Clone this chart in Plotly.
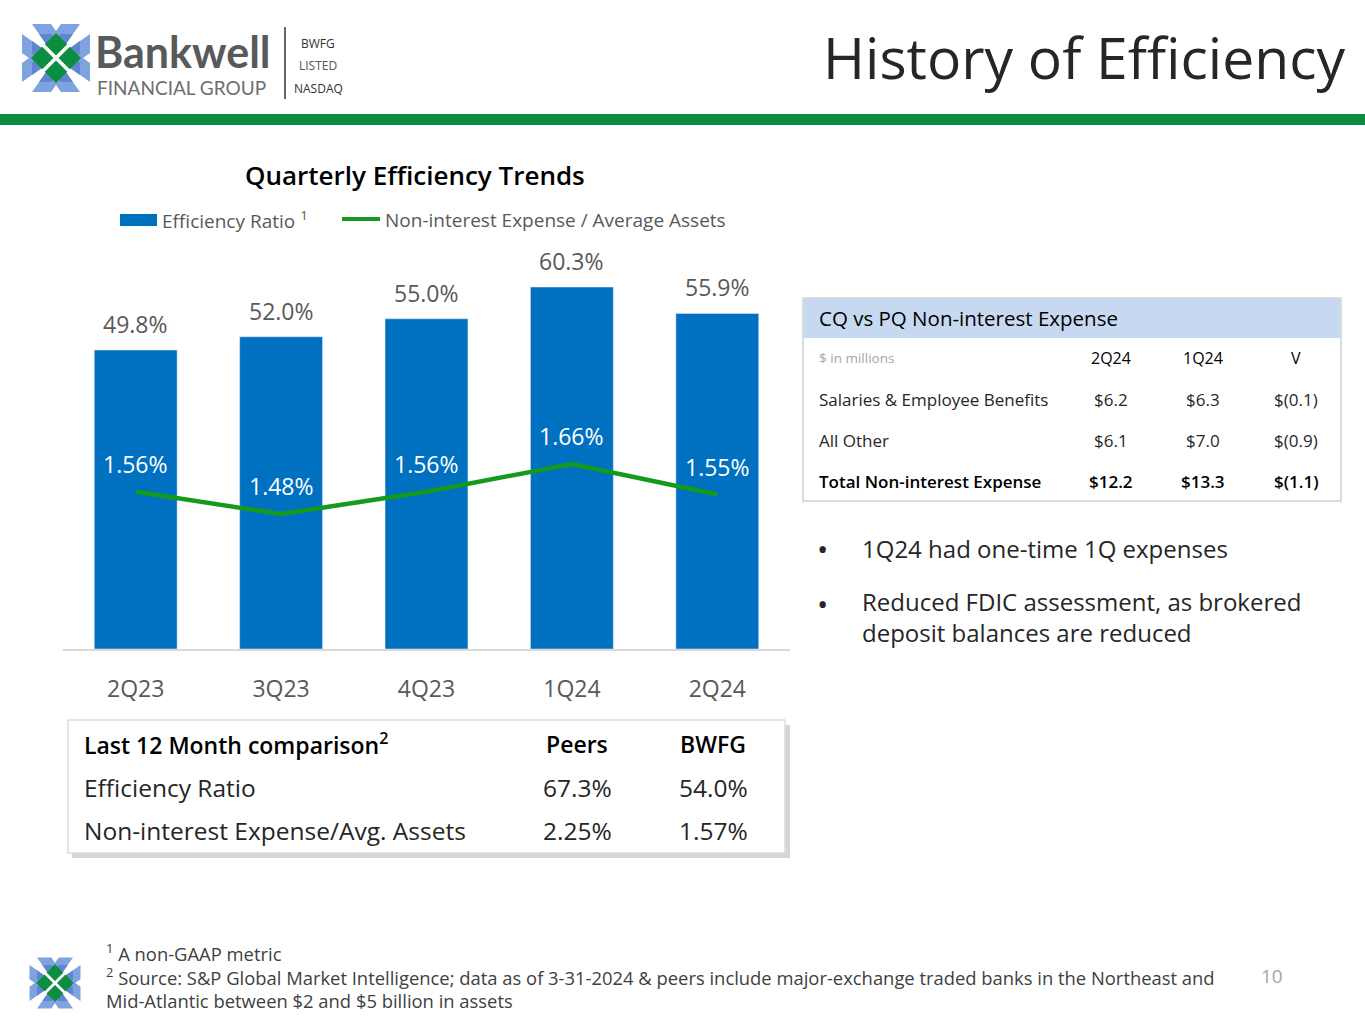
import plotly.graph_objects as go

# ---------------- data ----------------
quarters = ["2Q23", "3Q23", "4Q23", "1Q24", "2Q24"]
efficiency_ratio = [49.8, 52.0, 55.0, 60.3, 55.9]
nie_avg_assets = [1.56, 1.48, 1.56, 1.66, 1.55]

exp_cols = ["2Q24", "1Q24", "V"]
exp_rows = ["Salaries & Employee Benefits", "All Other", "Total Non-interest Expense"]
exp_vals = [["$6.2", "$6.3", "$(0.1)"],
            ["$6.1", "$7.0", "$(0.9)"],
            ["$12.2", "$13.3", "$(1.1)"]]

ltm_cols = ["Peers", "BWFG"]
ltm_rows = ["Efficiency Ratio", "Non-interest Expense/Avg. Assets"]
ltm_vals = [["67.3%", "54.0%"], ["2.25%", "1.57%"]]

bullets = ["1Q24 had one-time 1Q expenses",
           "Reduced FDIC assessment, as brokered<br>deposit balances are reduced"]

# ---------------- helpers ----------------
W, H = 1365, 1024
FONT = "Open Sans"
BLUE = "#0070C0"
GREEN = "#169A1E"
GRAY = "#595959"
DARK = "#262626"


def X(px):
    return px / W


def Y(py):
    return 1 - py / H


shapes = []
ann = []


def text(x, y, s, size, color=DARK, xanchor="left", weight=400, yanchor="middle", family=FONT):
    ann.append(dict(x=X(x), y=Y(y), xref="paper", yref="paper", text=s,
                    showarrow=False, xanchor=xanchor, yanchor=yanchor,
                    font=dict(family=family, size=size, color=color, weight=weight)))


def rect(x0, y0, x1, y1, fill, line=None, lw=0):
    shapes.append(dict(type="rect", xref="paper", yref="paper",
                       x0=X(x0), x1=X(x1), y0=Y(y1), y1=Y(y0),
                       fillcolor=fill, line=dict(color=line or fill, width=lw)))


def poly(pts, fill):
    d = "M " + " L ".join(f"{X(px)},{Y(py)}" for px, py in pts) + " Z"
    shapes.append(dict(type="path", xref="paper", yref="paper", path=d,
                       fillcolor=fill, line=dict(width=0)))


def line(x0, y0, x1, y1, color, w):
    shapes.append(dict(type="line", xref="paper", yref="paper",
                       x0=X(x0), x1=X(x1), y0=Y(y0), y1=Y(y1),
                       line=dict(color=color, width=w)))


def logo(cx, cy, s):
    quad = [(0, 0), (-24, -34), (-5, -34), (0, -27), (5, -34), (24, -34)]
    inner = [(0, 0), (-17, -24), (-5, -24), (0, -20), (5, -24), (17, -24)]
    for q, colr in ((quad, "#7FA2E0"), (inner, "#5F86CF")):
        for rot in range(4):
            pts = []
            for (a, b) in q:
                for _ in range(rot):
                    a, b = -b, a
                pts.append((cx + a * s, cy + b * s))
            poly(pts, colr)
    poly([(cx, cy - 25 * s), (cx + 25 * s, cy), (cx, cy + 25 * s), (cx - 25 * s, cy)], "#0B8E3F")
    line(cx - 34 * s, cy - 34 * s, cx + 34 * s, cy + 34 * s, "white", 3.5 * s)
    line(cx - 34 * s, cy + 34 * s, cx + 34 * s, cy - 34 * s, "white", 3.5 * s)


# ---------------- header ----------------
logo(56, 58, 1.0)
text(93, 51, "Bankwell", 43, "#58595B", "left", 700, family="Lato")
text(95, 87, "FINANCIAL GROUP", 19, "#6D6E71", "left", 400, family="Lato")
line(285, 27, 285, 99, "#333333", 1.5)
text(318, 43, "BWFG", 12, "#333333", "center")
text(318, 65, "LISTED", 12, "#555555", "center")
text(318, 88, "NASDAQ", 12, "#333333", "center")
text(1347, 57, "History of Efficiency", 57, "#262626", "right")
rect(0, 114, W, 125, "#0B8C3E")

# ---------------- chart title & legend ----------------
text(415, 175, "Quarterly Efficiency Trends", 26, "#000000", "center", 600)
rect(120, 214, 157, 226, BLUE)
text(160, 220, "Efficiency Ratio <sup>1</sup>", 19, GRAY)
line(342, 219, 380, 219, GREEN, 4)
text(383, 220, "Non-interest Expense / Average Assets", 19, GRAY)

# ---------------- right table ----------------
rect(803, 298, 1341, 501, "white", "#D5DCE6", 2)
rect(804, 299, 1340, 338, "#C6D9F1")
text(817, 318, "CQ vs PQ Non-interest Expense", 20.5, "#000000")
text(817, 358, "$ in millions", 13.5, "#A6A6A6")
col_x = [1111, 1203, 1296]
for cx, c in zip(col_x, exp_cols):
    text(cx, 358, c, 16, "#000000", "center")
row_y = [399, 440, 481]
for i, (ry, r) in enumerate(zip(row_y, exp_rows)):
    wt = 600 if i == 2 else 400
    col = "#000000" if i == 2 else DARK
    text(817, ry, r, 17, col, "left", wt)
    for cx, v in zip(col_x, exp_vals[i]):
        text(cx, ry, v, 17, col, "center", wt)

# ---------------- bullets ----------------
text(815, 548, "•", 30, DARK)
text(860, 548, bullets[0], 24, DARK)
text(815, 603, "•", 30, DARK)
ann.append(dict(x=X(860), y=Y(583), xref="paper", yref="paper", text=bullets[1],
                showarrow=False, xanchor="left", yanchor="top", align="left",
                font=dict(family=FONT, size=24, color=DARK)))

# ---------------- bottom comparison table ----------------
rect(72, 725, 790, 858, "rgba(0,0,0,0.16)")
rect(68, 720, 785, 853, "white", "#D9DEE6", 1.5)
text(82, 744, "Last 12 Month comparison<sup>2</sup>", 23, "#000000", "left", 600)
ltm_x = [577, 713]
for cx, c in zip(ltm_x, ltm_cols):
    text(cx, 744, c, 23, "#000000", "center", 600)
for ry, r, vals in zip([787, 830], ltm_rows, ltm_vals):
    text(82, ry, r, 24.5, DARK)
    for cx, v in zip(ltm_x, vals):
        text(cx, ry, v, 24.5, DARK, "center")

# ---------------- footnotes ----------------
logo(55, 983, 0.75)
text(104, 952, "<sup>1</sup> A non-GAAP metric", 18.4, "#404040")
text(104, 976, "<sup>2</sup> Source: S&P Global Market Intelligence; data as of 3-31-2024 & peers include "
               "major-exchange traded banks in the Northeast and", 18.4, "#404040")
text(104, 1000, "Mid-Atlantic between $2 and $5 billion in assets", 18.4, "#404040")
text(1272, 976, "10", 19, "#A6A6A6", "center")

# ---------------- chart ----------------
fig = go.Figure()
fig.add_trace(go.Bar(x=quarters, y=efficiency_ratio, marker_color=BLUE, width=0.57,
                     name="Efficiency Ratio", hoverinfo="skip"))
fig.add_trace(go.Scatter(x=quarters, y=nie_avg_assets, yaxis="y2", mode="lines",
                         line=dict(color=GREEN, width=4.5), name="Non-interest Expense / Average Assets",
                         hoverinfo="skip"))

for q, v in zip(quarters, efficiency_ratio):
    ann.append(dict(x=q, y=v, xref="x", yref="y", text=f"{v:.1f}%", showarrow=False,
                    yanchor="bottom", yshift=8,
                    font=dict(family=FONT, size=23, color=GRAY)))
for q, v in zip(quarters, nie_avg_assets):
    ann.append(dict(x=q, y=v, xref="x", yref="y2", text=f"{v:.2f}%", showarrow=False,
                    yanchor="bottom", yshift=10,
                    font=dict(family=FONT, size=23, color="white")))

fig.update_layout(
    width=W, height=H, margin=dict(l=0, r=0, t=0, b=0),
    paper_bgcolor="white", plot_bgcolor="white", showlegend=False,
    font=dict(family=FONT),
    xaxis=dict(domain=[X(63), X(790)], range=[-0.5, 4.5], showgrid=False, zeroline=False,
               showline=True, linecolor="#D9D9D9", linewidth=1.5,
               ticks="outside", ticklen=19, tickcolor="rgba(0,0,0,0)",
               tickfont=dict(family=FONT, size=23, color=GRAY)),
    yaxis=dict(domain=[Y(649), Y(239)], range=[0, 68.3], visible=False),
    yaxis2=dict(domain=[Y(649), Y(239)], range=[0.994, 2.47], overlaying="y", visible=False),
    shapes=shapes, annotations=ann,
)
fig.write_html("out.html", config={"displayModeBar": False},
               post_script="document.body.style.margin='0px';document.body.style.overflow='hidden';")
